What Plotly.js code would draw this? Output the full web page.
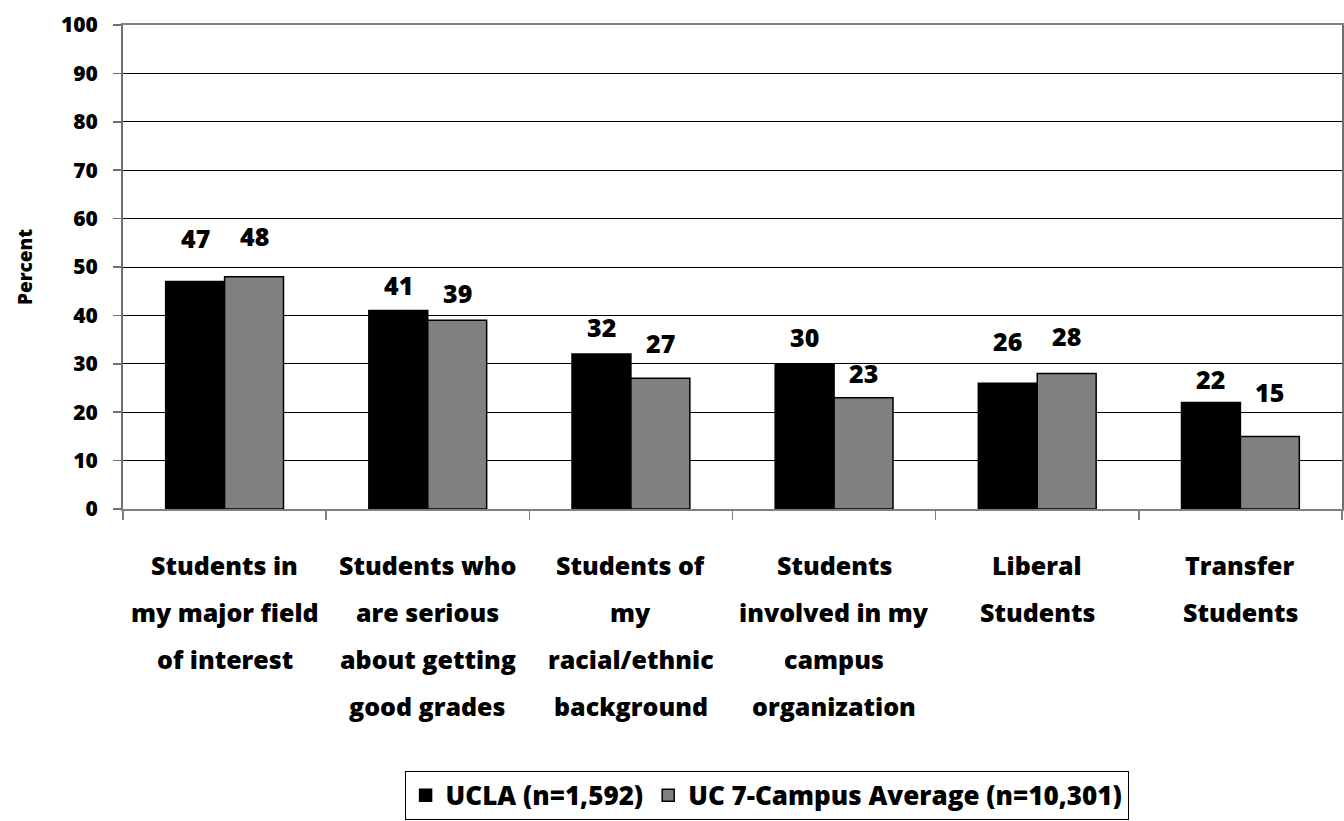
<!DOCTYPE html>
<html>
<head>
<meta charset="utf-8">
<script src="https://cdn.plot.ly/plotly-3.0.1.min.js"></script>
<style>
  html, body { margin: 0; padding: 0; background: #ffffff; }
  #chart { width: 1344px; height: 821px; }
</style>
</head>
<body>
<div id="chart"></div>
<script>
// Peer groups, each label split into the lines shown under the axis
const categoryLines = [
  ["Students in", "my major field", "of interest"],
  ["Students who", "are serious", "about getting", "good grades"],
  ["Students of", "my", "racial/ethnic", "background"],
  ["Students", "involved in my", "campus", "organization"],
  ["Liberal", "Students"],
  ["Transfer", "Students"]
];
const categories = categoryLines.map(l => l.join(" "));

// Percent of respondents, by group
const seriesNames = ["UCLA (n=1,592)", "UC 7-Campus Average (n=10,301)"];
const ucla  = [47, 41, 32, 30, 26, 22];
const ucAvg = [48, 39, 27, 23, 28, 15];

const yTicks = [0, 10, 20, 30, 40, 50, 60, 70, 80, 90, 100];

// Vertical lift (px) of each value label above its bar
const liftUcla  = [44, 26, 27, 27, 42, 24];
const liftUcAvg = [41, 27, 35, 25, 37, 44];

const FONT = "'Open Sans', 'DejaVu Sans', sans-serif";
const barLine = { color: "#000000", width: 1.5 };

const traces = [
  {
    type: "bar", name: seriesNames[0], x: categories, y: ucla,
    marker: { color: "#000000", line: barLine }, hoverinfo: "y"
  },
  {
    type: "bar", name: seriesNames[1], x: categories, y: ucAvg,
    marker: { color: "#808080", line: barLine }, hoverinfo: "y"
  }
];

const annotations = [];
const half = 0.145;
[[ucla, liftUcla, -half], [ucAvg, liftUcAvg, half]].forEach(([vals, lift, dx]) => {
  vals.forEach((v, i) => {
    annotations.push({
      xref: "x", yref: "y", x: i + dx, y: v,
      text: String(v), showarrow: false,
      yanchor: "middle", yshift: lift[i],
      font: { family: FONT, size: 25, color: "#000000", weight: 800 }
    });
  });
});

// Category labels, one annotation per line for the wide line spacing
categoryLines.forEach((lines, i) => {
  lines.forEach((t, j) => {
    annotations.push({
      xref: "x", yref: "paper", x: i, y: 0,
      text: t, showarrow: false,
      yanchor: "middle", yshift: -56 - 47 * j,
      font: { family: FONT, size: 25, color: "#000000", weight: 800 }
    });
  });
});

const layout = {
  width: 1344, height: 821,
  margin: { l: 123, r: 2, t: 25, b: 312, autoexpand: false },
  paper_bgcolor: "#ffffff", plot_bgcolor: "#ffffff",
  font: { family: FONT, color: "#000000" },
  barmode: "group", bargap: 0.42, bargroupgap: 0,
  showlegend: true,
  legend: {
    orientation: "h", x: 0.231, xanchor: "left", y: -0.541, yanchor: "top",
    bordercolor: "#000000", borderwidth: 1, bgcolor: "#ffffff",
    font: { family: FONT, size: 26, color: "#000000", weight: 800 },
    traceorder: "normal", itemwidth: 30
  },
  xaxis: {
    type: "category", showticklabels: false,
    showline: true, linecolor: "#808080", linewidth: 2, mirror: true,
    ticks: "outside", tickson: "boundaries", ticklen: 9, tickcolor: "#808080", tickwidth: 1.5,
    showgrid: false, zeroline: false, fixedrange: true
  },
  yaxis: {
    range: [0, 100], tickvals: yTicks, ticktext: yTicks.map(String),
    showline: true, linecolor: "#707070", linewidth: 2, mirror: true,
    ticks: "outside", ticklen: 8, tickcolor: "#707070", tickwidth: 1.5,
    ticklabelstandoff: 11,
    tickfont: { family: FONT, size: 21, color: "#000000", weight: 800 },
    showgrid: true, gridcolor: "#000000", gridwidth: 1,
    zeroline: false, fixedrange: true,
    title: {
      text: "Percent", standoff: 23,
      font: { family: FONT, size: 19, color: "#000000", weight: 800 }
    }
  },
  annotations: annotations
};

Plotly.newPlot("chart", traces, layout, { displayModeBar: false, staticPlot: true });
</script>
</body>
</html>
